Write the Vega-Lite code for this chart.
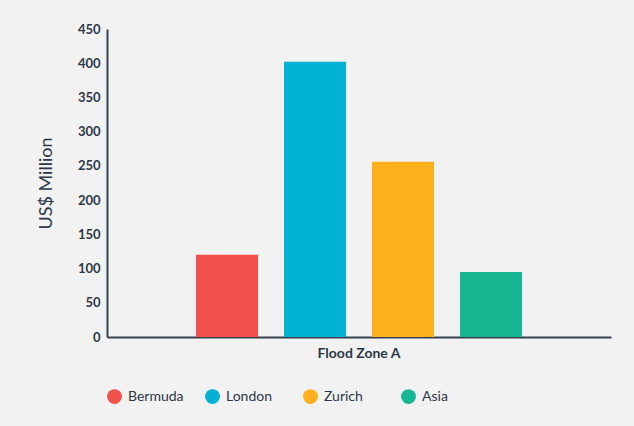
{
  "$schema": "https://vega.github.io/schema/vega-lite/v6.json",
  "width": 504,
  "height": 308,
  "padding": {"left": 37, "top": 23, "right": 23, "bottom": 25},
  "background": "#f2f2f2",
  "config": {
    "view": {"stroke": null},
    "font": "Lato"
  },
  "data": {
    "values": [
      {"zone": "Flood Zone A", "city": "Bermuda", "value": 120},
      {"zone": "Flood Zone A", "city": "London", "value": 402},
      {"zone": "Flood Zone A", "city": "Zurich", "value": 256},
      {"zone": "Flood Zone A", "city": "Asia", "value": 95}
    ]
  },
  "mark": {"type": "bar"},
  "encoding": {
    "x": {
      "field": "zone",
      "type": "nominal",
      "scale": {"paddingInner": 0, "paddingOuter": 0.216},
      "axis": {
        "title": null,
        "labelAngle": 0,
        "ticks": false,
        "labelFont": "Lato",
        "labelFontWeight": "bold",
        "labelFontSize": 14,
        "labelColor": "#2d3748",
        "labelPadding": 9,
        "domainColor": "#36404e",
        "domainWidth": 2
      }
    },
    "xOffset": {
      "field": "city",
      "type": "nominal",
      "sort": ["Bermuda", "London", "Zurich", "Asia"],
      "scale": {"paddingInner": 0.295, "paddingOuter": 0.1475}
    },
    "y": {
      "field": "value",
      "type": "quantitative",
      "scale": {"domain": [0, 450]},
      "axis": {
        "values": [0, 50, 100, 150, 200, 250, 300, 350, 400, 450],
        "title": "US$ Million",
        "titleFont": "Lato",
        "titleFontWeight": "normal",
        "titleFontSize": 18,
        "titleColor": "#2d3748",
        "titlePadding": 22,
        "grid": false,
        "ticks": false,
        "labelFont": "Lato",
        "labelFontWeight": "bold",
        "labelFontSize": 13,
        "labelColor": "#2d3748",
        "labelPadding": 7,
        "domainColor": "#36404e",
        "domainWidth": 2
      }
    },
    "color": {
      "field": "city",
      "type": "nominal",
      "sort": ["Bermuda", "London", "Zurich", "Asia"],
      "scale": {
        "domain": ["Bermuda", "London", "Zurich", "Asia"],
        "range": ["#f2504b", "#00b1d3", "#ffb01c", "#17b794"]
      },
      "legend": {
        "orient": "bottom",
        "direction": "horizontal",
        "columns": 4,
        "gridAlign": "all",
        "title": null,
        "symbolType": "circle",
        "symbolSize": 220,
        "symbolStrokeWidth": 0,
        "labelFont": "Lato",
        "labelFontSize": 14,
        "labelColor": "#2d3748",
        "labelOffset": 6,
        "columnPadding": 21,
        "offset": 29
      }
    }
  }
}
